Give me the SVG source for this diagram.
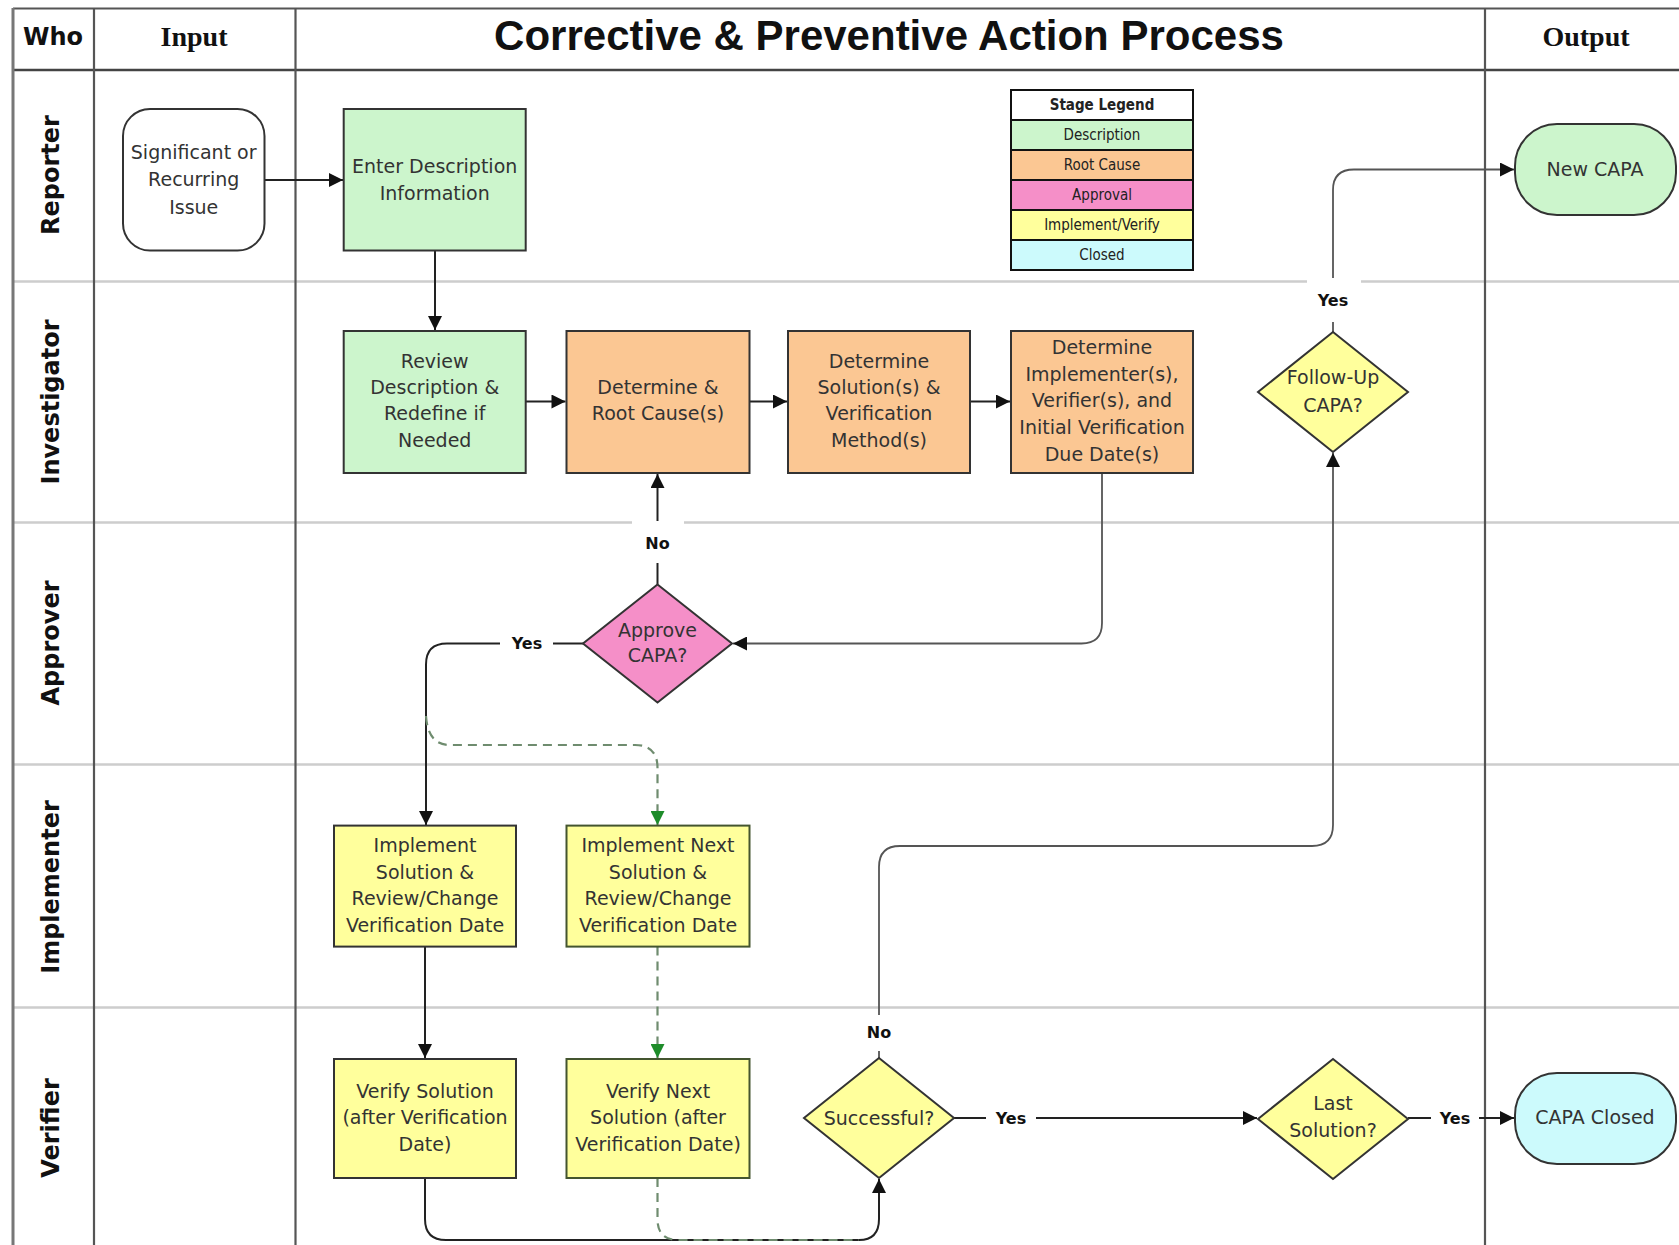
<svg xmlns="http://www.w3.org/2000/svg" width="1679" height="1245" viewBox="0 0 1679 1245">
<defs>
<style>
.t{font-family:"DejaVu Sans",Verdana,sans-serif;font-size:19px;fill:#333;text-anchor:middle}
.lane{font-family:"DejaVu Sans",Verdana,sans-serif;font-weight:bold;font-size:24px;fill:#111;text-anchor:middle}
.lbl{font-family:"DejaVu Sans",Verdana,sans-serif;font-weight:bold;font-size:16px;fill:#111;text-anchor:middle}
.hd{font-family:"Liberation Serif",serif;font-weight:bold;font-size:28px;fill:#111;text-anchor:middle}
.title{font-family:"Liberation Sans",Arial,sans-serif;font-weight:bold;font-size:42px;fill:#111;text-anchor:middle}
.box{stroke:#333;stroke-width:2}
.nx{stroke:#44552f;stroke-width:2}
.g{fill:#ccf5cc}.o{fill:#fbc793}.p{fill:#f58fc8}.y{fill:#ffff9c}.c{fill:#ccfafc}.w{fill:#fff}
.conn{fill:none;stroke:#222;stroke-width:2}
.thin{fill:none;stroke:#555;stroke-width:1.8}
.dash{fill:none;stroke:#6f8c6f;stroke-width:2.2;stroke-dasharray:9 6}
.row{stroke:#cdcdcd;stroke-width:2.5}
.col{stroke:#555;stroke-width:2.2}
.lg{font-family:"DejaVu Sans Condensed","DejaVu Sans",sans-serif;font-size:15px;fill:#222;text-anchor:middle}
.bg{fill:#fff}
</style>
<marker id="arr" viewBox="0 0 10 10" refX="10" refY="5" markerWidth="18" markerHeight="14" markerUnits="userSpaceOnUse" orient="auto"><path d="M0,0 L10,5 L0,10 z" fill="#111"/></marker>
<marker id="garr" viewBox="0 0 10 10" refX="10" refY="5" markerWidth="18" markerHeight="14" markerUnits="userSpaceOnUse" orient="auto"><path d="M0,0 L10,5 L0,10 z" fill="#1e8c2a"/></marker>
</defs>
<rect x="0" y="0" width="1679" height="1245" fill="#fff"/>

<g id="swimlanes">
<line class="row" x1="13" y1="281.5" x2="1679" y2="281.5"/>
<line class="row" x1="13" y1="522.5" x2="1679" y2="522.5"/>
<line class="row" x1="13" y1="764.5" x2="1679" y2="764.5"/>
<line class="row" x1="13" y1="1007.5" x2="1679" y2="1007.5"/>
<line class="col" x1="13" y1="8.5" x2="1679" y2="8.5"/>
<line stroke="#444" stroke-width="2.6" x1="13" y1="70" x2="1679" y2="70"/>
<line stroke="#777" stroke-width="3" x1="13" y1="8" x2="13" y2="1245"/>
<line class="col" x1="94" y1="8.5" x2="94" y2="1245"/>
<line class="col" x1="295.5" y1="8.5" x2="295.5" y2="1245"/>
<line class="col" x1="1485" y1="8.5" x2="1485" y2="1245"/>
<text class="lane" x="53" y="45">Who</text>
<text class="hd" x="194" y="46">Input</text>
<text class="hd" x="1586" y="46">Output</text>
<text class="title" x="889" y="50">Corrective &amp; Preventive Action Process</text>
<text class="lane" transform="translate(59,175) rotate(-90)">Reporter</text>
<text class="lane" transform="translate(59,402) rotate(-90)">Investigator</text>
<text class="lane" transform="translate(59,643) rotate(-90)">Approver</text>
<text class="lane" transform="translate(59,887) rotate(-90)">Implementer</text>
<text class="lane" transform="translate(59,1128) rotate(-90)">Verifier</text>
</g>

<g id="legend">
<rect x="1011" y="90" width="182" height="30" fill="#fff" stroke="#111" stroke-width="2"/>
<rect x="1011" y="120" width="182" height="30" class="g" stroke="#111" stroke-width="2"/>
<rect x="1011" y="150" width="182" height="30" class="o" stroke="#111" stroke-width="2"/>
<rect x="1011" y="180" width="182" height="30" class="p" stroke="#111" stroke-width="2"/>
<rect x="1011" y="210" width="182" height="30" class="y" stroke="#111" stroke-width="2"/>
<rect x="1011" y="240" width="182" height="30" class="c" stroke="#111" stroke-width="2"/>
<text class="lg" x="1102" y="110" font-weight="bold">Stage Legend</text>
<text class="lg" x="1102" y="140">Description</text>
<text class="lg" x="1102" y="170">Root Cause</text>
<text class="lg" x="1102" y="200">Approval</text>
<text class="lg" x="1102" y="230">Implement/Verify</text>
<text class="lg" x="1102" y="260">Closed</text>
</g>

<g id="connectors">
<path class="conn" d="M264.5 180 H343" marker-end="url(#arr)"/>
<path class="conn" d="M435 250.6 V330" marker-end="url(#arr)"/>
<path class="conn" d="M525.8 401.5 H565.5" marker-end="url(#arr)"/>
<path class="conn" d="M749.6 401.5 H787" marker-end="url(#arr)"/>
<path class="conn" d="M970 401.5 H1010" marker-end="url(#arr)"/>
<path class="thin" d="M1102 473 V623 Q1102 643.5 1081.5 643.5 H733" marker-end="url(#arr)"/>
<path class="conn" d="M657.5 584.5 V474" marker-end="url(#arr)"/>
<path class="conn" d="M584.5 643.5 H447 Q426 643.5 426 664.5 V825" marker-end="url(#arr)"/>
<path class="dash" d="M426 716 Q428 745 450 745 H635 Q657.5 745 657.5 768 V825" marker-end="url(#garr)"/>
<path class="conn" d="M425 946.6 V1058" marker-end="url(#arr)"/>
<path class="dash" d="M657.5 946.6 V1058" marker-end="url(#garr)"/>
<path class="conn" d="M425 1178 V1219 Q425 1240 446 1240 H859 Q879 1240 879 1219 V1179" marker-end="url(#arr)"/>
<path class="dash" d="M657.5 1178 V1219 Q657.5 1240 678 1240 H859"/>
<path class="thin" d="M879 1058 V867 Q879 846 900 846 H1312 Q1333 846 1333 825 V453" marker-end="url(#arr)"/>
<path class="thin" d="M1333 332 V190 Q1333 169.5 1354 169.5 H1514" marker-end="url(#arr)"/>
<path class="conn" d="M954 1118 H1257" marker-end="url(#arr)"/>
<path class="conn" d="M1408 1118 H1514" marker-end="url(#arr)"/>
<rect class="bg" x="632" y="521" width="52" height="42"/>
<text class="lbl" x="657.5" y="549">No</text>
<rect class="bg" x="500" y="631" width="53" height="26"/>
<text class="lbl" x="527" y="649">Yes</text>
<rect class="bg" x="1307" y="278" width="54" height="44"/>
<text class="lbl" x="1333" y="306">Yes</text>
<rect class="bg" x="853" y="1015" width="52" height="36"/>
<text class="lbl" x="879" y="1038">No</text>
<rect class="bg" x="986" y="1106" width="50" height="26"/>
<text class="lbl" x="1011" y="1124">Yes</text>
<rect class="bg" x="1431" y="1106" width="48" height="26"/>
<text class="lbl" x="1455" y="1124">Yes</text>
</g>

<g id="n-issue">
<rect x="123" y="109" width="141.5" height="141.5" rx="27" class="w box"/>
<text class="t" x="193.7" y="159">Significant or</text>
<text class="t" x="193.7" y="186">Recurring</text>
<text class="t" x="193.7" y="214">Issue</text>
</g>
<g id="n-enter">
<rect x="343.7" y="109" width="182" height="141.5" class="g box"/>
<text class="t" x="434.7" y="173">Enter Description</text>
<text class="t" x="434.7" y="200">Information</text>
</g>
<g id="n-review">
<rect x="343.7" y="331" width="182" height="142" class="g box"/>
<text class="t" x="434.7" y="368">Review</text>
<text class="t" x="434.7" y="394">Description &amp;</text>
<text class="t" x="434.7" y="420">Redefine if</text>
<text class="t" x="434.7" y="447">Needed</text>
</g>
<g id="n-rootcause">
<rect x="566.5" y="331" width="183" height="142" class="o box"/>
<text class="t" x="658" y="394">Determine &amp;</text>
<text class="t" x="658" y="420">Root Cause(s)</text>
</g>
<g id="n-solution">
<rect x="788" y="331" width="182" height="142" class="o box"/>
<text class="t" x="879" y="368">Determine</text>
<text class="t" x="879" y="394">Solution(s) &amp;</text>
<text class="t" x="879" y="420">Verification</text>
<text class="t" x="879" y="447">Method(s)</text>
</g>
<g id="n-implementers">
<rect x="1011" y="331" width="182" height="142" class="o box"/>
<text class="t" x="1102" y="354">Determine</text>
<text class="t" x="1102" y="381">Implementer(s),</text>
<text class="t" x="1102" y="407">Verifier(s), and</text>
<text class="t" x="1102" y="434">Initial Verification</text>
<text class="t" x="1102" y="461">Due Date(s)</text>
</g>
<g id="n-approve">
<polygon points="657.5,584.5 732,643.5 657.5,702.5 583,643.5" class="p box"/>
<text class="t" x="657.5" y="637">Approve</text>
<text class="t" x="657.5" y="662">CAPA?</text>
</g>
<g id="n-followup">
<polygon points="1333,332 1408,392 1333,452 1258,392" class="y box"/>
<text class="t" x="1333" y="384">Follow-Up</text>
<text class="t" x="1333" y="412">CAPA?</text>
</g>
<g id="n-newcapa">
<rect x="1515" y="124" width="161" height="91" rx="42" class="g box"/>
<text class="t" x="1595" y="176">New CAPA</text>
</g>
<g id="n-implement">
<rect x="334" y="825.6" width="182" height="121" class="y box"/>
<text class="t" x="425" y="852">Implement</text>
<text class="t" x="425" y="879">Solution &amp;</text>
<text class="t" x="425" y="905">Review/Change</text>
<text class="t" x="425" y="932">Verification Date</text>
</g>
<g id="n-implementnext">
<rect x="566.5" y="825.6" width="183" height="121" class="y nx"/>
<text class="t" x="658" y="852">Implement Next</text>
<text class="t" x="658" y="879">Solution &amp;</text>
<text class="t" x="658" y="905">Review/Change</text>
<text class="t" x="658" y="932">Verification Date</text>
</g>
<g id="n-verify">
<rect x="334" y="1059" width="182" height="119" class="y box"/>
<text class="t" x="425" y="1098">Verify Solution</text>
<text class="t" x="425" y="1124">(after Verification</text>
<text class="t" x="425" y="1151">Date)</text>
</g>
<g id="n-verifynext">
<rect x="566.5" y="1059" width="183" height="119" class="y nx"/>
<text class="t" x="658" y="1098">Verify Next</text>
<text class="t" x="658" y="1124">Solution (after</text>
<text class="t" x="658" y="1151">Verification Date)</text>
</g>
<g id="n-successful">
<polygon points="879,1058 954,1118 879,1178 804,1118" class="y box"/>
<text class="t" x="879" y="1125">Successful?</text>
</g>
<g id="n-lastsolution">
<polygon points="1333,1059 1408,1119 1333,1179 1258,1119" class="y box"/>
<text class="t" x="1333" y="1110">Last</text>
<text class="t" x="1333" y="1137">Solution?</text>
</g>
<g id="n-closed">
<rect x="1515" y="1073" width="161" height="91" rx="42" class="c box"/>
<text class="t" x="1595" y="1124">CAPA Closed</text>
</g>
</svg>
